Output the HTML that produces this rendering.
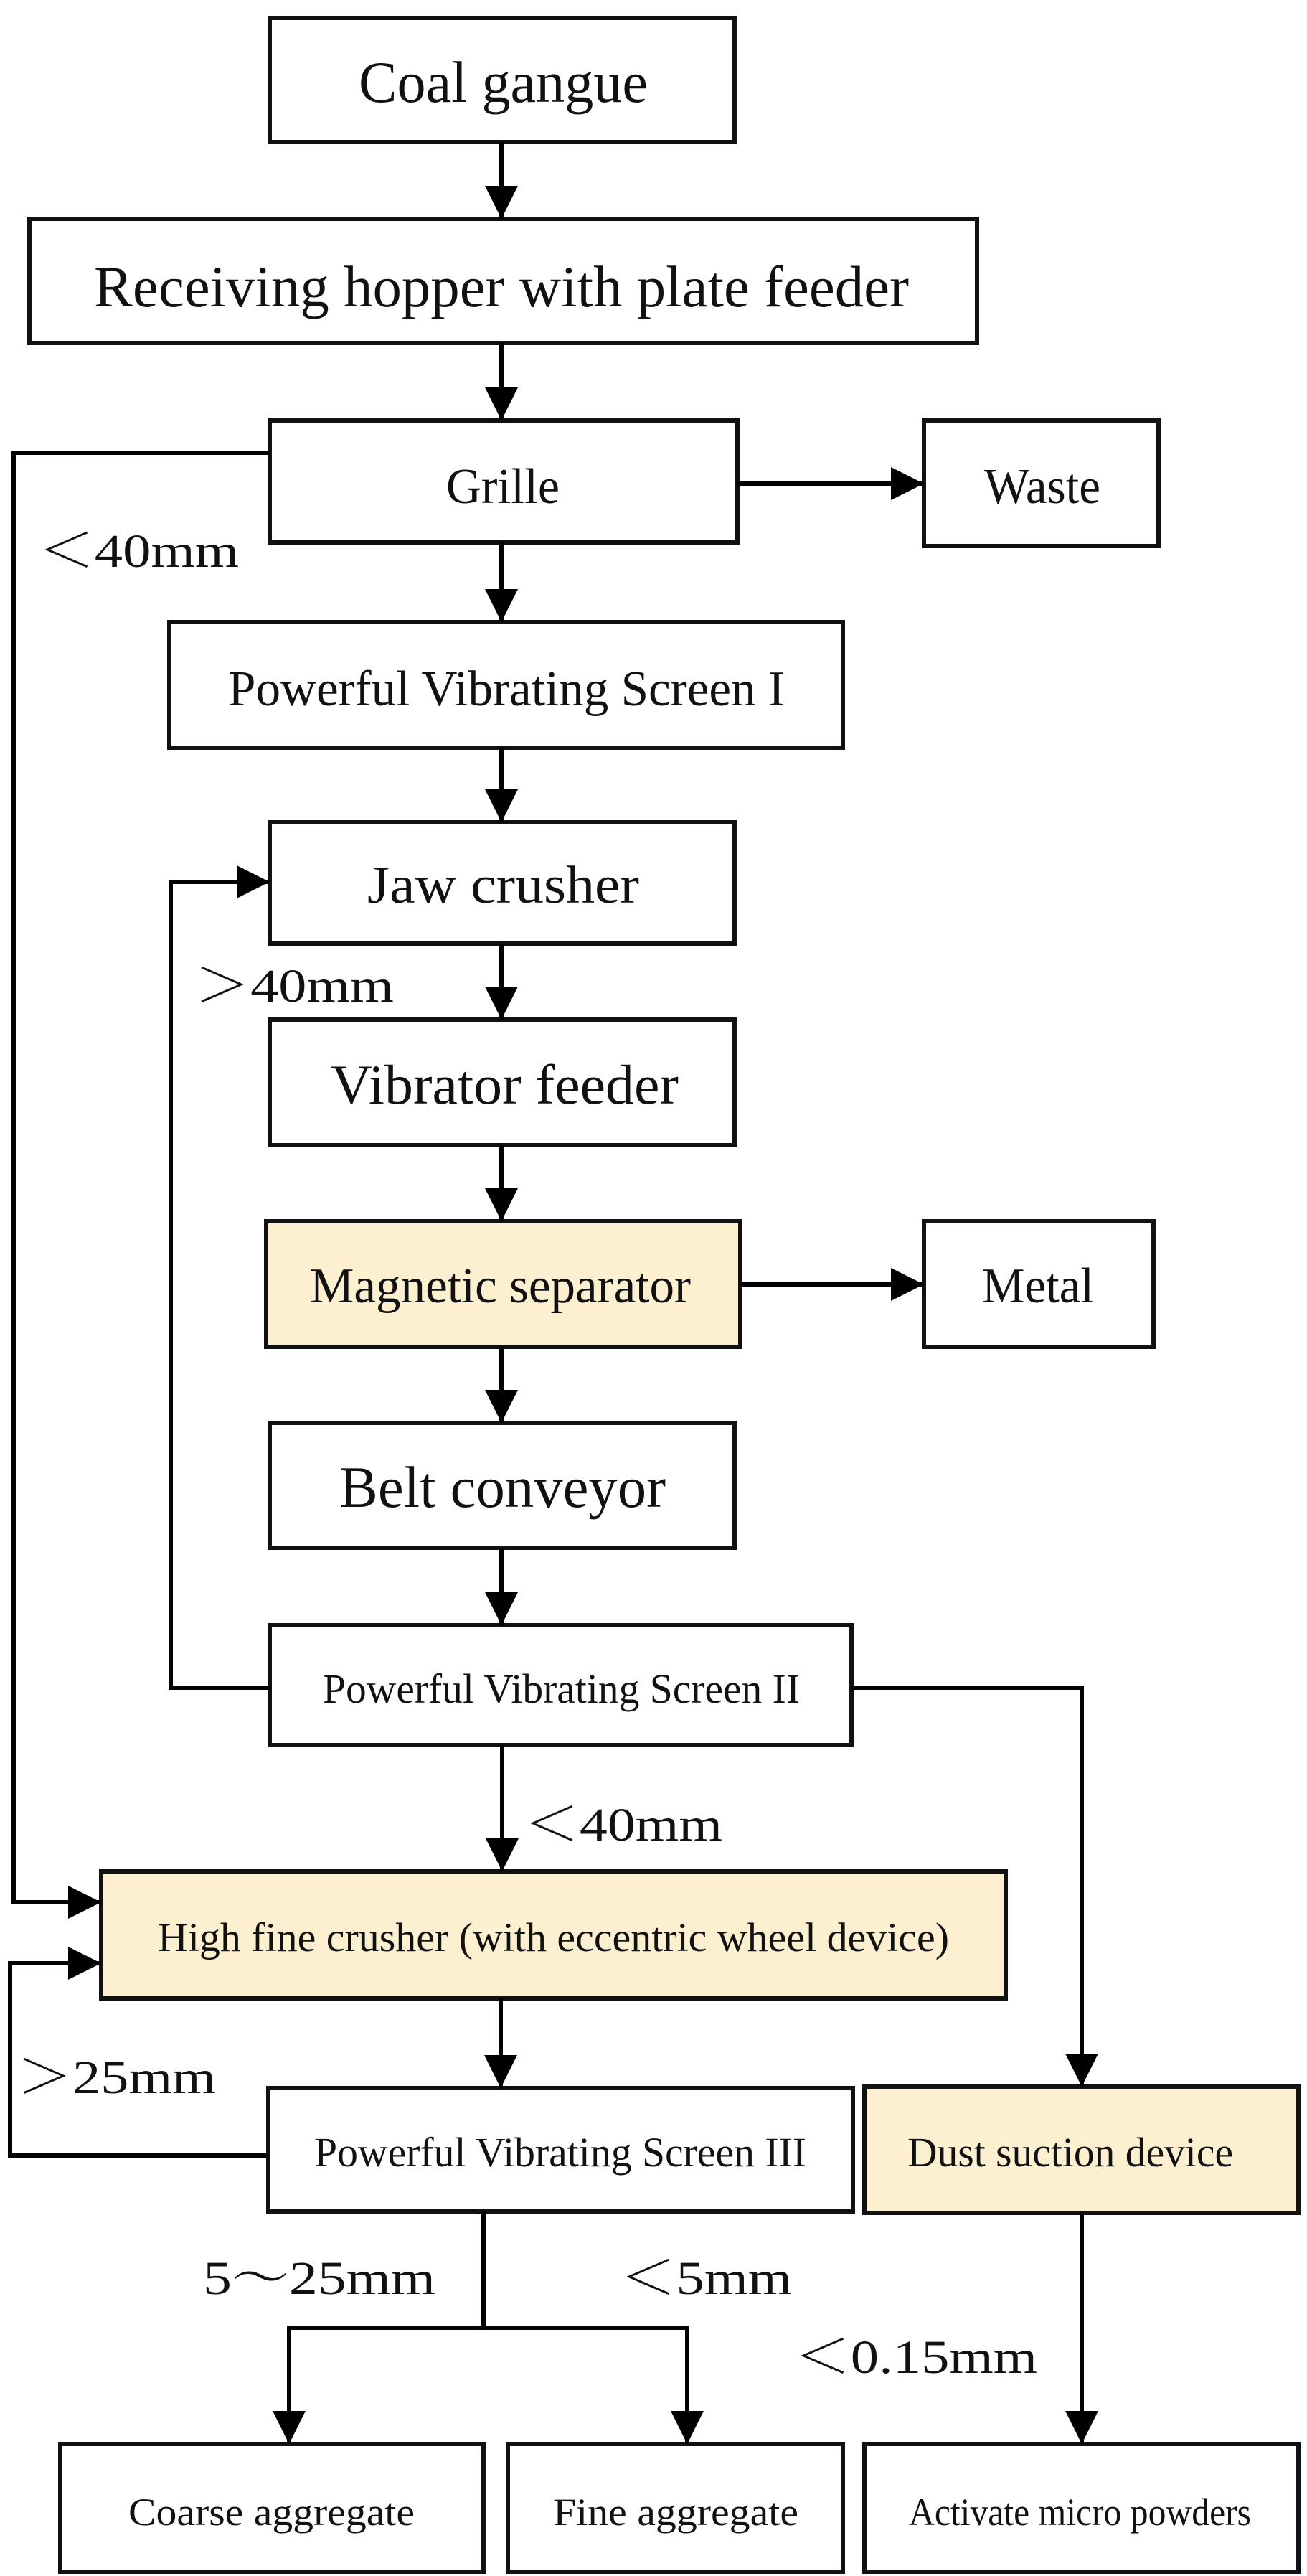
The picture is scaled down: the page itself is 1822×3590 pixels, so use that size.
<!DOCTYPE html>
<html><head><meta charset="utf-8"><style>
html,body{margin:0;padding:0;background:#fff;}
svg{display:block;}
text{font-family:"Liberation Serif","Noto Serif CJK SC",serif;fill:#111;}
</style></head><body>
<svg width="1822" height="3590" viewBox="0 0 1822 3590" xmlns="http://www.w3.org/2000/svg">
<defs>
<marker id="a" markerWidth="46" markerHeight="46" refX="46" refY="23" orient="auto" markerUnits="userSpaceOnUse">
<path d="M0,0 L46,23 L0,46 Z" fill="#000"/>
</marker>
</defs>
<g fill="#fff" stroke="#111" stroke-width="6">
<rect x="376" y="25" width="648" height="173"/>
<rect x="41" y="305" width="1321" height="173"/>
<rect x="376" y="586" width="652" height="170"/>
<rect x="1288" y="586" width="327" height="175"/>
<rect x="236" y="867" width="939" height="175"/>
<rect x="376" y="1146" width="648" height="169"/>
<rect x="376" y="1421" width="648" height="175"/>
<rect x="371" y="1702" width="661" height="175" fill="#fdf0d0"/>
<rect x="1288" y="1702" width="320" height="175"/>
<rect x="376" y="1983" width="648" height="174"/>
<rect x="376" y="2265" width="811" height="167"/>
<rect x="141" y="2608" width="1261" height="177" fill="#fdf0d0"/>
<rect x="374" y="2910" width="815" height="172"/>
<rect x="1205" y="2908" width="605" height="176" fill="#fdf0d0"/>
<rect x="84" y="3406" width="590" height="178"/>
<rect x="708" y="3406" width="467" height="178"/>
<rect x="1205" y="3406" width="605" height="178"/>
</g>
<g fill="none" stroke="#000" stroke-width="6">
<line x1="699" y1="198" x2="699" y2="305" marker-end="url(#a)"/>
<line x1="699" y1="478" x2="699" y2="586" marker-end="url(#a)"/>
<line x1="1028" y1="674" x2="1288" y2="674" marker-end="url(#a)"/>
<line x1="699" y1="756" x2="699" y2="867" marker-end="url(#a)"/>
<line x1="699" y1="1042" x2="699" y2="1146" marker-end="url(#a)"/>
<line x1="699" y1="1315" x2="699" y2="1421" marker-end="url(#a)"/>
<line x1="699" y1="1596" x2="699" y2="1702" marker-end="url(#a)"/>
<line x1="1032" y1="1790" x2="1288" y2="1790" marker-end="url(#a)"/>
<line x1="699" y1="1877" x2="699" y2="1983" marker-end="url(#a)"/>
<line x1="699" y1="2157" x2="699" y2="2265" marker-end="url(#a)"/>
<polyline points="376,2352 238,2352 238,1229 376,1229" marker-end="url(#a)"/>
<polyline points="376,631 19,631 19,2651 141,2651" marker-end="url(#a)"/>
<polyline points="1187,2352 1508,2352 1508,2908" marker-end="url(#a)"/>
<line x1="700" y1="2432" x2="700" y2="2608" marker-end="url(#a)"/>
<line x1="698" y1="2785" x2="698" y2="2910" marker-end="url(#a)"/>
<polyline points="374,3004 14,3004 14,2736 141,2736" marker-end="url(#a)"/>
<polyline points="674,3082 674,3244 403,3244 403,3406" marker-end="url(#a)"/>
<polyline points="674,3244 958,3244 958,3406" marker-end="url(#a)"/>
<line x1="1508" y1="3084" x2="1508" y2="3406" marker-end="url(#a)"/>
</g>
<g>
<text x="500" y="142" font-size="82" textLength="403" lengthAdjust="spacingAndGlyphs">Coal gangue</text>
<text x="131" y="427" font-size="82" textLength="1136" lengthAdjust="spacingAndGlyphs">Receiving hopper with plate feeder</text>
<text x="622" y="701" font-size="70" textLength="158" lengthAdjust="spacingAndGlyphs">Grille</text>
<text x="1372" y="701" font-size="70" textLength="162" lengthAdjust="spacingAndGlyphs">Waste</text>
<text x="53" y="790" font-size="66" textLength="280" lengthAdjust="spacingAndGlyphs">＜40mm</text>
<text x="318" y="983" font-size="70" textLength="776" lengthAdjust="spacingAndGlyphs">Powerful Vibrating Screen I</text>
<text x="512" y="1258" font-size="74" textLength="379" lengthAdjust="spacingAndGlyphs">Jaw crusher</text>
<text x="271" y="1396" font-size="66" textLength="278" lengthAdjust="spacingAndGlyphs">＞40mm</text>
<text x="461" y="1538" font-size="78" textLength="485" lengthAdjust="spacingAndGlyphs">Vibrator feeder</text>
<text x="432" y="1815" font-size="70" textLength="531" lengthAdjust="spacingAndGlyphs">Magnetic separator</text>
<text x="1369" y="1815" font-size="70" textLength="156" lengthAdjust="spacingAndGlyphs">Metal</text>
<text x="473" y="2100" font-size="82" textLength="455" lengthAdjust="spacingAndGlyphs">Belt conveyor</text>
<text x="450" y="2373" font-size="58" textLength="665" lengthAdjust="spacingAndGlyphs">Powerful Vibrating Screen II</text>
<text x="730" y="2565" font-size="66" textLength="277" lengthAdjust="spacingAndGlyphs">＜40mm</text>
<text x="220" y="2719" font-size="57" textLength="1103" lengthAdjust="spacingAndGlyphs">High fine crusher (with eccentric wheel device)</text>
<text x="23" y="2917" font-size="66" textLength="278" lengthAdjust="spacingAndGlyphs">＞25mm</text>
<text x="438" y="3019" font-size="58" textLength="686" lengthAdjust="spacingAndGlyphs">Powerful Vibrating Screen III</text>
<text x="1265" y="3019" font-size="58" textLength="454" lengthAdjust="spacingAndGlyphs">Dust suction device</text>
<text x="283" y="3197" font-size="66" textLength="324" lengthAdjust="spacingAndGlyphs">5～25mm</text>
<text x="864" y="3197" font-size="66" textLength="240" lengthAdjust="spacingAndGlyphs">＜5mm</text>
<text x="1107" y="3307" font-size="66" textLength="339" lengthAdjust="spacingAndGlyphs">＜0.15mm</text>
<text x="179" y="3519" font-size="54" textLength="399" lengthAdjust="spacingAndGlyphs">Coarse aggregate</text>
<text x="771" y="3519" font-size="54" textLength="342" lengthAdjust="spacingAndGlyphs">Fine aggregate</text>
<text x="1267" y="3519" font-size="54" textLength="477" lengthAdjust="spacingAndGlyphs">Activate micro powders</text>
</g>
</svg>
</body></html>
